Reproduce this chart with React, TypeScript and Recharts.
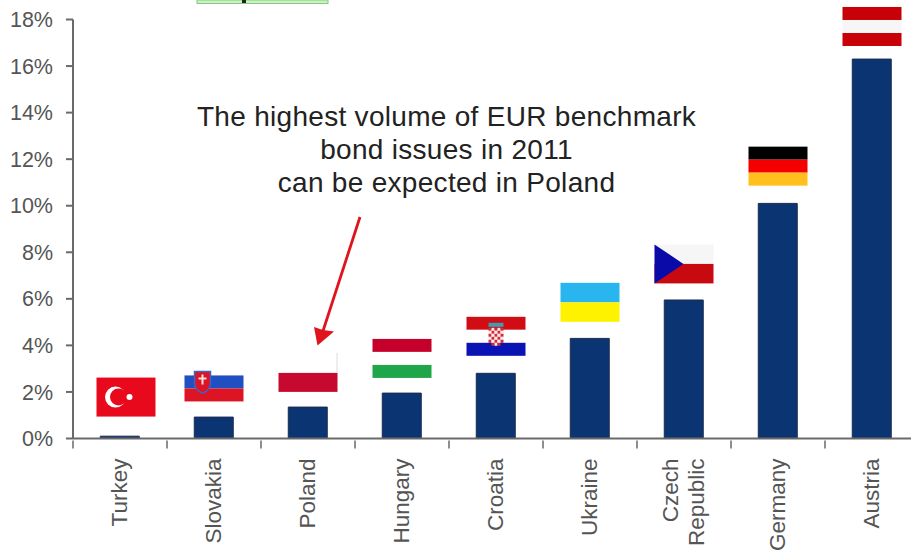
import { Bar, BarChart, ReferenceDot, XAxis, YAxis } from "recharts";

const countries = ["Turkey", "Slovakia", "Poland", "Hungary", "Croatia", "Ukraine", "Czech Republic", "Germany", "Austria"];
const volumes = [0.1, 0.92, 1.35, 1.95, 2.8, 4.3, 5.95, 10.1, 16.3];
// height of each flag's centre, in axis units
const flagLevels = [1.78, 2.43, 2.84, 3.44, 4.39, 5.85, 7.5, 11.7, 17.7];
const yTicks = [0, 2, 4, 6, 8, 10, 12, 14, 16, 18];
const noteLines = ["The highest volume of EUR benchmark", "bond issues in 2011", "can be expected in Poland"];

const rows = countries.map((name, i) => ({ name, volume: volumes[i] }));

const FONT = "'Liberation Sans', Arial, sans-serif";
const AXIS_COLOR = "#6a6a6a";
const W = 59;
const H = 39;
const BAND = 94;

type FlagProps = { cx: number; cy: number };

function stripes(x: number, y: number, colors: string[]) {
  const h = H / colors.length;
  return colors.map((c, i) => <rect key={i} x={x} y={y + i * h} width={W} height={h} fill={c} />);
}

// small red and white chequered shield
function croatianShield(x: number, y: number) {
  const cells = [];
  for (let row = 0; row < 6; row++) {
    for (let col = 0; col < 5; col++) {
      const inset = row === 5 && (col === 0 || col === 4);
      if (inset) continue;
      cells.push(
        <rect key={`${row}-${col}`} x={x + col * 3} y={y + row * 3} width={3} height={3} fill={(row + col) % 2 ? "#f6e6e6" : "#cf2c3a"} />,
      );
    }
  }
  return cells;
}

const flagDrawers: Record<string, (x: number, y: number) => React.ReactNode> = {
  Turkey: (x, y) => (
    <g>
      <rect x={x} y={y} width={W} height={H} fill="#e8091c" />
      <circle cx={x + 19} cy={y + 19.5} r={10.5} fill="#fff" />
      <circle cx={x + 22} cy={y + 19.5} r={8.5} fill="#e8091c" />
      <circle cx={x + 33} cy={y + 19.5} r={3} fill="#fff" />
    </g>
  ),
  Slovakia: (x, y) => (
    <g>
      {stripes(x, y, ["#ffffff", "#1f4fc0", "#dc1424"])}
      <path d={`M${x + 10} ${y + 9}h16v12c0 5-4 8-8 10c-4-2-8-5-8-10z`} fill="#dc1424" stroke="#3f63c8" strokeWidth={1.5} />
      <path d={`M${x + 18} ${y + 12}v10M${x + 14} ${y + 16}h8`} stroke="#f0e0e0" strokeWidth={2} />
    </g>
  ),
  Poland: (x, y) => (
    <g>
      <rect x={x} y={y + 20} width={W} height={19} fill="#c8092f" />
      <path d={`M${x + W - 0.5} ${y}v20`} stroke="#dddddd" strokeWidth={1} />
    </g>
  ),
  Hungary: (x, y) => <g>{stripes(x, y, ["#c4002b", "#ffffff", "#1fa64a"])}</g>,
  Croatia: (x, y) => (
    <g>
      {stripes(x, y, ["#d00c14", "#ffffff", "#0a14b4"])}
      <rect x={x + 22} y={y + 6} width={15} height={4} fill="#3aa0b0" />
      {croatianShield(x + 22, y + 11)}
    </g>
  ),
  Ukraine: (x, y) => <g>{stripes(x, y, ["#29b6ee", "#fff200"])}</g>,
  "Czech Republic": (x, y) => (
    <g>
      <rect x={x} y={y} width={W} height={19.5} fill="#f6f6f6" />
      <rect x={x} y={y + 19.5} width={W} height={19.5} fill="#c8090f" />
      <path d={`M${x} ${y}L${x + 29} ${y + 19.5}L${x} ${y + 39}z`} fill="#0a0aa8" />
    </g>
  ),
  Germany: (x, y) => <g>{stripes(x, y, ["#000000", "#f40000", "#ffc01e"])}</g>,
  Austria: (x, y) => <g>{stripes(x, y, ["#c80008", "#f6f6f6", "#c80008"])}</g>,
};

// Turkey's flag sits a little right of its bar, the rest are centred
function Flag({ cx, cy, name }: FlagProps & { name: string }) {
  const shift = name === "Turkey" ? 6 : 0;
  return <>{flagDrawers[name](cx + shift - W / 2, cy - H / 2)}</>;
}

// rotated label, plus the tick marks on the band edges rather than the band centre
function CountryTick({ x, y, payload, index }: any) {
  const words: string[] = payload.value === "Czech Republic" ? ["Czech", "Republic"] : [payload.value];
  return (
    <g>
      {index === 0 && <line x1={x - BAND / 2} x2={x - BAND / 2} y1={y - 8} y2={y} stroke={AXIS_COLOR} strokeWidth={1.5} />}
      <line x1={x + BAND / 2} x2={x + BAND / 2} y1={y - 8} y2={y} stroke={AXIS_COLOR} strokeWidth={1.5} />
      <g transform={`translate(${x},${y + 10}) rotate(-90)`}>
        {words.map((w, i) => (
          <text
            key={w}
            x={0}
            y={(i - (words.length - 1) / 2) * 26}
            dy={7}
            textAnchor="end"
            fontFamily={FONT}
            fontSize={22.5}
            fill="#555"
          >
            {w}
          </text>
        ))}
      </g>
    </g>
  );
}

export default function App() {
  return (
    <div style={{ position: "absolute", left: 0, top: 0, width: 911, height: 551, overflow: "hidden", background: "#fff" }}>
      <BarChart
        width={960}
        height={551}
        data={rows}
        barCategoryGap="29%"
        margin={{ top: 19.5, right: 41, bottom: 0.5, left: 0 }}
      >
        <XAxis
          dataKey="name"
          interval={0}
          height={112}
          stroke={AXIS_COLOR}
          strokeWidth={2}
          tickSize={8}
          tick={<CountryTick />}
          tickLine={false}
        />
        <YAxis
          width={73}
          domain={[0, 18]}
          ticks={yTicks}
          interval={0}
          stroke={AXIS_COLOR}
          strokeWidth={2}
          tickSize={7}
          tickMargin={13}
          tickFormatter={(v: number) => `${v}%`}
          tick={{ fontFamily: FONT, fontSize: 21.5, fill: "#555" }}
        />
        <Bar dataKey="volume" fill="#0a3472" stroke="#1c2c50" strokeWidth={1} isAnimationActive={false} />
        {countries.map((name, i) => (
          <ReferenceDot
            key={name}
            x={name}
            y={flagLevels[i]}
            ifOverflow="visible"
            shape={(p: FlagProps) => <Flag cx={p.cx} cy={p.cy} name={name} />}
          />
        ))}
        <g>
          <line x1={360} y1={217} x2={323} y2={331} stroke="#e0141c" strokeWidth={2.8} />
          <path d="M317.5 345.5L314 327L323 330L334 331.5z" fill="#e0141c" />
          {noteLines.map((line, i) => (
            <text key={line} x={446.5} y={126 + i * 33} textAnchor="middle" fontFamily={FONT} fontSize={28} letterSpacing={0.3} fill="#222">
              {line}
            </text>
          ))}
          <rect x={197} y={0} width={131} height={3.5} fill="#cfeec8" stroke="#7fcf78" strokeWidth={1} />
          <rect x={242} y={0} width={4} height={3} fill="#222" />
        </g>
      </BarChart>
    </div>
  );
}
